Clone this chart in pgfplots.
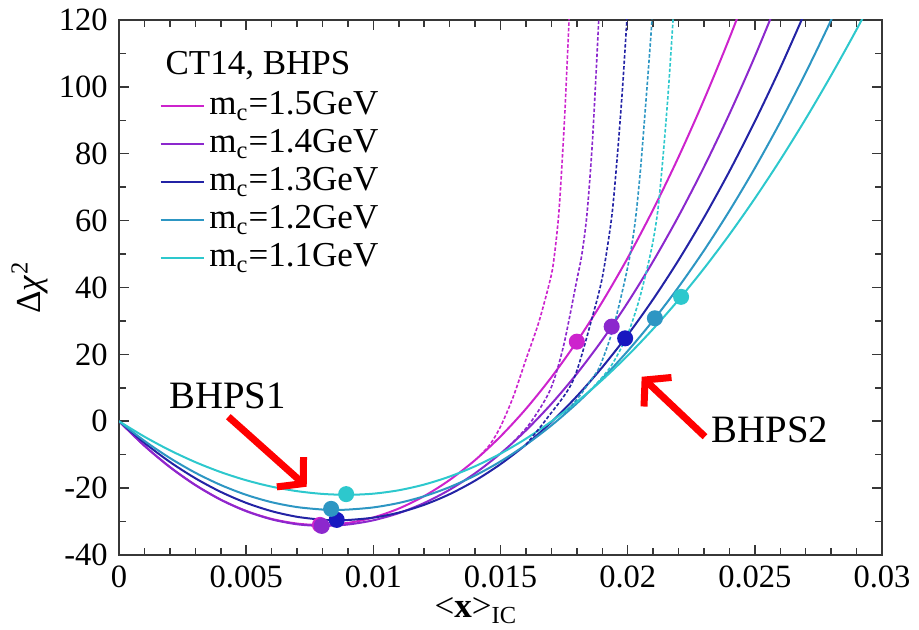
\documentclass[border=0pt]{standalone}
\usepackage{fontspec}
\setmainfont{Liberation Serif}
\usepackage{pgfplots}
\pgfplotsset{compat=1.18}
\usetikzlibrary{arrows.meta}
\definecolor{cMa}{RGB}{205,35,205}
\definecolor{cPu}{RGB}{140,40,205}
\definecolor{cDb}{RGB}{35,35,165}
\definecolor{cSt}{RGB}{45,150,195}
\definecolor{cCy}{RGB}{45,200,205}
\definecolor{axgray}{RGB}{55,55,55}
\newcommand{\fs}{\fontsize{13pt}{15pt}\selectfont}
\newcommand{\fl}{\fontsize{14pt}{16pt}\selectfont}
\newcommand{\fa}{\fontsize{15.5pt}{17pt}\selectfont}
\begin{document}
\begin{tikzpicture}
\begin{axis}[
  scale only axis, width=305.2pt, height=214pt,
  xmin=0, xmax=0.03, ymin=-40, ymax=120,
  clip mode=individual,
  axis line style={axgray, line width=0.8pt},
  every tick/.style={axgray, line width=0.6pt},
  tick align=inside,
  major tick length=4pt, minor tick length=2.8pt,
  xtick={0,0.005,0.01,0.015,0.02,0.025,0.03},
  xticklabels={0,0.005,0.01,0.015,0.02,0.025,0.03},
  scaled x ticks=false,
  minor x tick num=4,
  ytick={-40,-20,0,20,40,60,80,100,120},
  minor y tick num=1,
  tick label style={font=\fs},
  /pgf/number format/assume math mode=true,
  xticklabel style={yshift=-1pt},
  yticklabel style={xshift=-1pt},
  xlabel={{\textless}\textbf{x}{\textgreater}\textsubscript{IC}},
  xlabel style={font=\fl, at={(rel axis cs:0.468,-0.104)}, anchor=center},
  ylabel={Δ\textit{χ}\textsuperscript{2}},
  ylabel style={font=\fl, at={(rel axis cs:-0.117,0.5)}, anchor=center},
  legend style={draw=none, fill=none, at={(axis cs:0.00158,99.3)}, anchor=north west, font=\fl, inner sep=0pt, row sep=2.2pt, nodes={inner xsep=2pt, inner ysep=0pt, text height=10pt, text depth=3pt}},
  legend cell align=left,
  every axis plot/.append style={line width=0.8pt},
]
% solid curves
\addplot[cMa, smooth] table {
0 0
0.001 -7.35
0.002 -13.71
0.003 -19.07
0.004 -23.45
0.005 -26.82
0.006 -29.21
0.007 -30.60
0.0079 -31.0
0.009 -30.40
0.010 -28.77
0.011 -26.11
0.012 -22.38
0.013 -17.56
0.014 -11.62
0.015 -4.54
0.016 3.71
0.017 13.15
0.018 23.80
0.019 35.69
0.020 48.84
0.021 63.29
0.022 79.04
0.023 96.13
0.024 114.58
0.025 134.42
};
\addlegendentry{m\textsubscript{c}=1.5GeV}
\addplot[cPu, smooth] table {
0 0
0.001 -7.34
0.002 -13.70
0.003 -19.07
0.004 -23.48
0.005 -26.90
0.006 -29.34
0.007 -30.81
0.008 -31.3
0.009 -30.88
0.010 -29.62
0.011 -27.48
0.012 -24.44
0.013 -20.48
0.014 -15.55
0.015 -9.65
0.016 -2.74
0.017 5.20
0.018 14.20
0.019 24.29
0.020 35.49
0.021 47.83
0.022 61.33
0.023 76.03
0.024 91.94
0.025 109.10
0.026 127.53
};
\addlegendentry{m\textsubscript{c}=1.4GeV}
\addplot[cDb, smooth] table {
0 0
0.001 -6.48
0.002 -12.17
0.003 -17.05
0.004 -21.13
0.005 -24.41
0.006 -26.89
0.007 -28.58
0.008 -29.46
0.0086 -29.6
0.009 -29.54
0.010 -28.83
0.011 -27.32
0.012 -24.99
0.013 -21.81
0.014 -17.76
0.015 -12.83
0.016 -7.00
0.017 -0.24
0.018 7.47
0.019 16.15
0.020 25.81
0.021 36.48
0.022 48.18
0.023 60.93
0.024 74.75
0.025 89.66
0.026 105.67
0.027 122.82
};
\addlegendentry{m\textsubscript{c}=1.3GeV}
\addplot[cSt, smooth] table {
0 0
0.001 -5.87
0.002 -11.00
0.003 -15.40
0.004 -19.07
0.005 -22.01
0.006 -24.21
0.007 -25.67
0.008 -26.41
0.0085 -26.5
0.009 -26.42
0.010 -25.77
0.011 -24.44
0.012 -22.42
0.013 -19.69
0.014 -16.23
0.015 -12.01
0.016 -7.03
0.017 -1.26
0.018 5.33
0.019 12.74
0.020 21.00
0.021 30.13
0.022 40.15
0.023 51.07
0.024 62.93
0.025 75.72
0.026 89.49
0.027 104.24
0.028 120.0
0.029 136.78
};
\addlegendentry{m\textsubscript{c}=1.2GeV}
\addplot[cCy, smooth] table {
0 0
0.001 -4.62
0.002 -8.69
0.003 -12.22
0.004 -15.21
0.005 -17.65
0.006 -19.56
0.007 -20.91
0.008 -21.73
0.009 -22.0
0.010 -21.66
0.011 -20.64
0.012 -18.93
0.013 -16.54
0.014 -13.46
0.015 -9.69
0.016 -5.22
0.017 -0.06
0.018 5.80
0.019 12.36
0.020 19.63
0.021 27.61
0.022 36.30
0.023 45.69
0.024 55.80
0.025 66.63
0.026 78.18
0.027 90.45
0.028 103.45
0.029 117.16
0.030 131.62
};
\addlegendentry{m\textsubscript{c}=1.1GeV}
% dashed curves
\addplot[cMa, smooth, line width=0.65pt, dash pattern=on 1.4pt off 0.8pt, forget plot] table {
0.0142 -10.2
0.0146 -6.8
0.0150 -1.6
0.0155 7.3
0.0160 18.5
0.0165 29.5
0.01695 42.2
0.0171 48.5
0.0173 63
0.0175 88
0.0176 104
0.0177 121
0.0178 140
};
\addplot[cPu, smooth, line width=0.65pt, dash pattern=on 1.4pt off 0.8pt, forget plot] table {
0.0155 -6.2
0.01616 -0.6
0.01695 9.3
0.01747 22.3
0.0180 42.2
0.0182 50
0.0184 62
0.0186 82
0.01875 103
0.0189 126
0.0190 142
};
\addplot[cDb, smooth, line width=0.65pt, dash pattern=on 1.4pt off 0.8pt, forget plot] table {
0.0160 -7.0
0.01682 0.8
0.01786 12.3
0.01865 32.3
0.01898 42.2
0.0192 52
0.0194 63
0.0196 80
0.0198 100
0.0200 124
0.0201 138
};
\addplot[cSt, smooth, line width=0.65pt, dash pattern=on 1.4pt off 0.8pt, forget plot] table {
0.0175 2.0
0.0181 7.5
0.0186 12.8
0.01891 16.5
0.0194 27
0.01983 40.2
0.0201 50
0.0203 60
0.0205 75
0.0207 94
0.0209 114
0.0211 136
};
\addplot[cCy, smooth, line width=0.65pt, dash pattern=on 1.4pt off 0.8pt, forget plot] table {
0.0185 9.0
0.0193 16
0.01996 25.3
0.0204 35
0.02075 45.2
0.0210 54
0.0212 64
0.0214 80
0.0216 99
0.0218 122
0.0219 135
};
% BHPS1 and BHPS2 points
\addplot[only marks, mark=*, mark size=2.8pt, cMa, forget plot] coordinates {(0.0079,-31.0) (0.0180,23.8)};
\addplot[only marks, mark=*, mark size=2.8pt, cPu, forget plot] coordinates {(0.00797,-31.3) (0.01937,28.3)};
\addplot[only marks, mark=*, mark size=2.8pt, cDb!70!blue, forget plot] coordinates {(0.00856,-29.5) (0.0199,24.8)};
\addplot[only marks, mark=*, mark size=2.8pt, cSt, forget plot] coordinates {(0.00834,-26.2) (0.02107,30.8)};
\addplot[only marks, mark=*, mark size=2.8pt, cCy, forget plot] coordinates {(0.00893,-21.8) (0.0221,37.2)};
% annotations
\node[anchor=west, font=\fl, inner sep=0pt] at (axis cs:0.00181,106.5) {CT14, BHPS};
\node[font=\fa] at (axis cs:0.004266,7.55) {BHPS1};
\node[font=\fa] at (axis cs:0.0256,-2.62) {BHPS2};
\draw[red, line width=2.8pt, -{Straight Barb[length=7pt,width=16pt]}] (axis cs:0.004298,1.36) -- (axis cs:0.00738,-19.58);
\draw[red, line width=2.8pt, -{Straight Barb[length=7pt,width=16pt]}] (axis cs:0.02304,-4.62) -- (axis cs:0.02055,13.3);
\coordinate (bbBL) at (rel axis cs:-0.156,-0.1402);
\coordinate (bbTR) at (rel axis cs:1.0485,1.0374);
\end{axis}
\pgfresetboundingbox
\path (bbBL) rectangle (bbTR);
\end{tikzpicture}
\end{document}
